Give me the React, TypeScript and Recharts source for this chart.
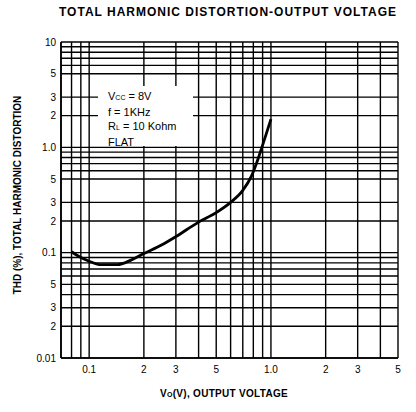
import React from 'react';
import { LineChart, Line, XAxis, YAxis, CartesianGrid } from 'recharts';

const voltage = [0.08, 0.09, 0.1, 0.114, 0.143, 0.17, 0.2, 0.25, 0.3, 0.4, 0.5, 0.6, 0.7, 0.78, 0.85, 0.9, 0.95, 1.0];
const thd = [0.102, 0.09, 0.083, 0.077, 0.077, 0.085, 0.098, 0.118, 0.142, 0.195, 0.24, 0.3, 0.39, 0.53, 0.78, 1.05, 1.4, 1.85];

const xTicks = [0.08, 0.09, 0.1, 0.2, 0.3, 0.4, 0.5, 0.6, 0.7, 0.8, 0.9, 1, 2, 3, 4, 5];
const xTickLabels = ['', '', '0.1', '2', '3', '', '5', '', '', '', '', '1.0', '2', '3', '', '5'];

const yTicks = [0.01, 0.02, 0.03, 0.04, 0.05, 0.06, 0.07, 0.08, 0.09, 0.1, 0.2, 0.3, 0.5, 0.6, 0.7, 0.8, 0.9, 1, 2, 3, 5, 6, 7, 8, 9, 10];
const yTickLabels = ['0.01', '2', '3', '', '5', '', '', '', '', '0.1', '2', '3', '5', '', '', '', '', '1.0', '2', '3', '5', '', '', '', '', '10'];

const data = voltage.map((v, i) => ({ v, thd: thd[i] }));

const font = '"Liberation Sans", Arial, sans-serif';

export default function App() {
  return (
    <div style={{ position: 'absolute', left: 0, top: 0, width: 416, height: 412, background: '#fff', fontFamily: font }}>
      <LineChart width={416} height={412} data={data} margin={{ top: 42, right: 18, bottom: 0, left: 0 }}>
        <CartesianGrid stroke="#000" strokeWidth={1.4} />
        <XAxis
          dataKey="v"
          type="number"
          scale="log"
          domain={[0.07, 5]}
          allowDataOverflow
          ticks={xTicks}
          interval={0}
          tickFormatter={(_v: number, i: number) => xTickLabels[i]}
          tickLine={false}
          tickSize={6}
          axisLine={{ stroke: '#000', strokeWidth: 1.6 }}
          tick={{ fill: '#000', fontSize: 10, fontFamily: font }}
          height={54}
        />
        <YAxis
          type="number"
          scale="log"
          domain={[0.01, 10]}
          allowDataOverflow
          ticks={yTicks}
          interval={0}
          tickFormatter={(_v: number, i: number) => yTickLabels[i]}
          tickLine={false}
          tickSize={3}
          axisLine={{ stroke: '#000', strokeWidth: 1.6 }}
          tick={{ fill: '#000', fontSize: 10, fontFamily: font }}
          width={61}
        />
        <Line dataKey="thd" type="monotone" stroke="#000" strokeWidth={2.8} dot={false} isAnimationActive={false} />
      </LineChart>
      <div style={{ position: 'absolute', left: 0, width: 456, top: 5, textAlign: 'center', fontWeight: 'bold', fontSize: 12, letterSpacing: 1, color: '#000' }}>
        TOTAL HARMONIC DISTORTION-OUTPUT VOLTAGE
      </div>
      <div style={{ position: 'absolute', left: 61, width: 326, top: 388, textAlign: 'center', fontWeight: 'bold', fontSize: 10, letterSpacing: 0.3, color: '#000' }}>
        V<span style={{ fontSize: 7 }}>O</span>(V), OUTPUT VOLTAGE
      </div>
      <div style={{ position: 'absolute', left: 18 - 130, top: 195 - 7, width: 260, height: 14, textAlign: 'center', fontWeight: 'bold', fontSize: 10, color: '#000', transform: 'rotate(-90deg)', transformOrigin: '50% 50%', lineHeight: '14px' }}>
        THD (%), TOTAL HARMONIC DISTORTION
      </div>
      <div style={{ position: 'absolute', left: 98, top: 86, width: 95, height: 60, background: '#fff', fontSize: 11, lineHeight: '14px', color: '#000', paddingLeft: 10, boxSizing: 'border-box', paddingTop: 3 }}>
        <div>V<span style={{ fontSize: 7 }}>CC</span> = 8V</div>
        <div>f = 1KHz</div>
        <div>R<span style={{ fontSize: 7 }}>L</span> = 10 Kohm</div>
        <div>FLAT</div>
      </div>
    </div>
  );
}
